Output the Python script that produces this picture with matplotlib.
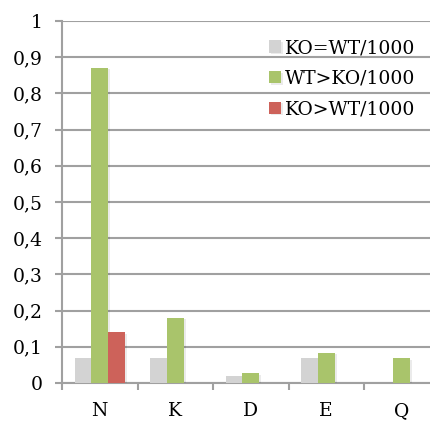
import matplotlib
matplotlib.use("Agg")
import matplotlib.pyplot as plt
import matplotlib.patheffects as pe
import numpy as np

categories = ["N", "K", "D", "E", "Q"]
series_names = ["KO=WT/1000", "WT>KO/1000", "KO>WT/1000"]
ko_eq_wt = [0.07, 0.07, 0.02, 0.07, 0.0]
wt_gt_ko = [0.87, 0.18, 0.027, 0.083, 0.068]
ko_gt_wt = [0.14, 0.0, 0.0, 0.0, 0.0]
y_ticks = [0, 0.1, 0.2, 0.3, 0.4, 0.5, 0.6, 0.7, 0.8, 0.9, 1]
y_labels = ["0", "0,1", "0,2", "0,3", "0,4", "0,5", "0,6", "0,7", "0,8", "0,9", "1"]

colors = ["#d3d3d3", "#a9c46b", "#cd625a"]
font = "DejaVu Serif"
fs = 13.5

fig = plt.figure(figsize=(4.30, 4.21), dpi=100)
ax = fig.add_axes([62/430, (421-383)/421, (439.5-62)/430, (383-21)/421])

x = np.arange(len(categories))
w = 0.22
shadow = [pe.SimplePatchShadow(offset=(1.5, -1.0), shadow_rgbFace="#000000", alpha=0.08), pe.Normal()]
for i, (vals, c, name) in enumerate(zip([ko_eq_wt, wt_gt_ko, ko_gt_wt], colors, series_names)):
    bars = ax.bar(x + (i - 1) * w, vals, width=w, color=c, label=name, zorder=3)
    for b in bars:
        if b.get_height() > 0:
            b.set_path_effects(shadow)

ax.set_xlim(-0.5, len(categories) - 0.5)
ax.set_ylim(0, 1)
ax.set_yticks(y_ticks)
ax.set_yticklabels(y_labels, fontfamily=font, fontsize=fs)
ax.set_xticks(x)
ax.set_xticklabels(categories, fontfamily=font, fontsize=fs)
ax.set_xticks(np.arange(len(categories) + 1) - 0.5, minor=True)
ax.tick_params(axis="x", which="major", length=0, pad=14)
ax.tick_params(axis="x", which="minor", length=5, width=1.5, color="#a0a0a0")
ax.tick_params(axis="y", length=5, width=1.5, color="#a0a0a0", pad=9)

ax.grid(axis="y", color="#a0a0a0", linewidth=1.5, zorder=0)
ax.set_axisbelow(True)
for s in ["top", "right"]:
    ax.spines[s].set_visible(False)
for s in ["left", "bottom"]:
    ax.spines[s].set_color("#a0a0a0")
    ax.spines[s].set_linewidth(1.5)

leg = ax.legend(loc="upper right", bbox_to_anchor=(0.935, 0.95), frameon=False,
                prop={"family": font, "size": fs}, handlelength=0.62, handleheight=0.62,
                handletextpad=0.2, labelspacing=0.68, borderaxespad=0, borderpad=0)

fig.savefig("out.png", dpi=100)
